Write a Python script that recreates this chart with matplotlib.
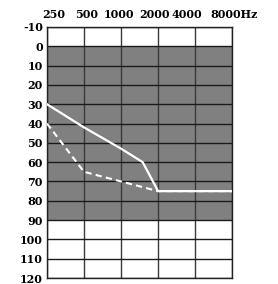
import matplotlib
matplotlib.use("Agg")
import matplotlib.pyplot as plt

# audiogram values (dB HL)
freqs = [250, 500, 1000, 2000, 4000, 8000]
freq_labels = ["250", "500", "1000", "2000", "4000", "8000Hz"]
levels = list(range(-10, 130, 10))

right_freqs = [250, 500, 1000, 1500, 2000, 4000, 8000]
right_db = [30, 42, 53, 60, 75, 75, 75]

left_freqs = [250, 500, 1000, 2000, 4000, 8000]
left_db = [40, 65, 70, 75, 75, 75]

shade_range = (0, 90)

plt.rcParams["font.family"] = ["DejaVu Serif"]

fig = plt.figure(figsize=(2.78, 2.84), dpi=100)
ax = fig.add_axes([0.169, 0.021, 0.666, 0.884])

ax.set_xscale("log", base=2)
ax.set_xlim(freqs[0], freqs[-1])
ax.set_ylim(levels[-1], levels[0])

ax.axhspan(*shade_range, color="#808080", zorder=0, lw=0)
for f in freqs:
    ax.axvline(f, color="#3a3a3a", lw=1.0, zorder=1)
for lv in levels:
    ax.axhline(lv, color="#1a1a1a", lw=1.0, zorder=1)

ax.plot(right_freqs, right_db, color="white", lw=1.6, zorder=3)
ax.plot(left_freqs, left_db, color="white", lw=1.5, ls=(0, (3, 2)), zorder=3)

ax.set_yticks(levels)
ax.set_yticklabels([str(v) for v in levels], fontsize=8, fontweight="bold")
ax.tick_params(axis="y", length=0, pad=3)
ax.minorticks_off()
ax.set_xticks([])

# pixel nudges so the top labels sit where the original has them
nudges = [7, 3, -2, -4, -8, -22]
for f, lab, dx in zip(freqs, freq_labels, nudges):
    ha = "left" if lab.endswith("Hz") else "center"
    ax.annotate(lab, xy=(f, levels[0]), xytext=(dx, 7), textcoords="offset pixels",
                ha=ha, va="bottom", fontsize=8, fontweight="bold",
                annotation_clip=False)

for s in ax.spines.values():
    s.set_color("#222222")
    s.set_linewidth(1.0)

fig.savefig("out.png", dpi=100)
